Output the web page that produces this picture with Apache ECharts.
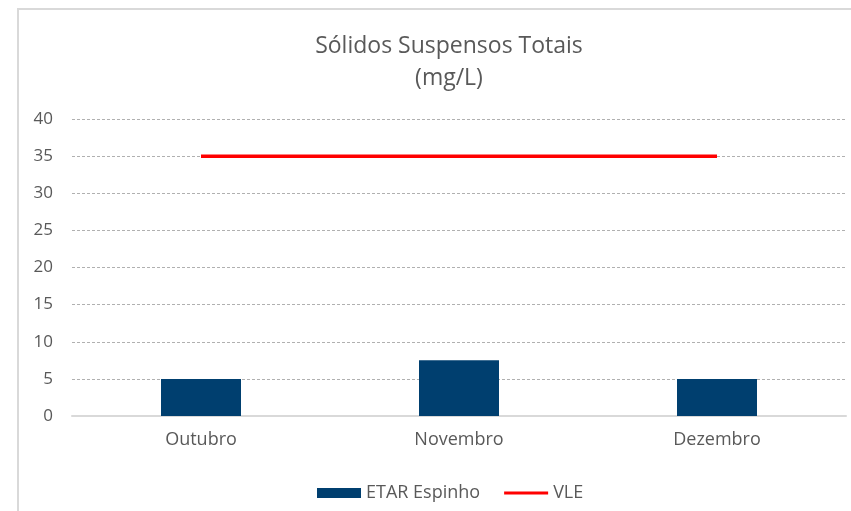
<!DOCTYPE html>
<html>
<head>
<meta charset="utf-8">
<script src="https://cdn.jsdelivr.net/npm/echarts@6/dist/echarts.min.js"></script>
<style>
html,body{margin:0;padding:0;background:#fff;}
#main{width:851px;height:511px;}
</style>
</head>
<body>
<div id="main"></div>
<script>
var months=['Outubro','Novembro','Dezembro'];
var etarEspinho=[5,7.5,5];
var vle=[35,35,35];
var yTicks=[0,5,10,15,20,25,30,35,40];

var myChart=echarts.init(document.getElementById('main'));
var fontName='Open Sans';
var option={
    backgroundColor:'#fff',
    graphic:[{
        type:'rect',
        shape:{x:18,y:9,width:900,height:600},
        style:{fill:'none',stroke:'#d9d9d9',lineWidth:2},
        silent:true
    }],
    title:{
        text:'Sólidos Suspensos Totais\n(mg/L)',
        left:444,
        textAlign:'center',
        top:25,
        textStyle:{
            fontFamily:fontName,
            fontWeight:'normal',
            fontSize:23,
            lineHeight:32,
            color:'#595959'
        }
    },
    grid:{
        left:72,
        right:5,
        top:119,
        bottom:95
    },
    legend:{
        left:312,
        top:479,
        itemWidth:44,
        itemHeight:10,
        itemGap:24,
        textStyle:{fontFamily:fontName,fontSize:18,color:'#595959'},
        data:[
            {name:'ETAR Espinho',icon:'rect'},
            // thin line icon, moveTo points keep the box 10px tall
            {name:'VLE',icon:'path://M0,0M0,10M0,3.5H44V6.5H0Z'}
        ]
    },
    xAxis:{
        type:'category',
        data:months,
        axisLine:{lineStyle:{color:'#d9d9d9',width:2}},
        axisTick:{show:false},
        axisLabel:{
            fontFamily:fontName,
            fontSize:18,
            color:'#595959',
            margin:15
        }
    },
    yAxis:{
        type:'value',
        min:yTicks[0],
        max:yTicks[yTicks.length-1],
        interval:5,
        axisLine:{show:false},
        axisTick:{show:false},
        axisLabel:{
            fontFamily:fontName,
            fontSize:17,
            color:'#595959',
            margin:19
        },
        splitLine:{
            lineStyle:{color:'#b0b0b0',type:[3,2],width:1}
        }
    },
    series:[
        {
            name:'ETAR Espinho',
            type:'bar',
            data:etarEspinho,
            barWidth:80,
            itemStyle:{color:'#003F6F'}
        },
        {
            name:'VLE',
            type:'line',
            data:vle,
            symbol:'none',
            lineStyle:{color:'#FF0000',width:3.5},
            itemStyle:{color:'#FF0000'}
        }
    ]
};
myChart.setOption(option);
</script>
</body>
</html>
